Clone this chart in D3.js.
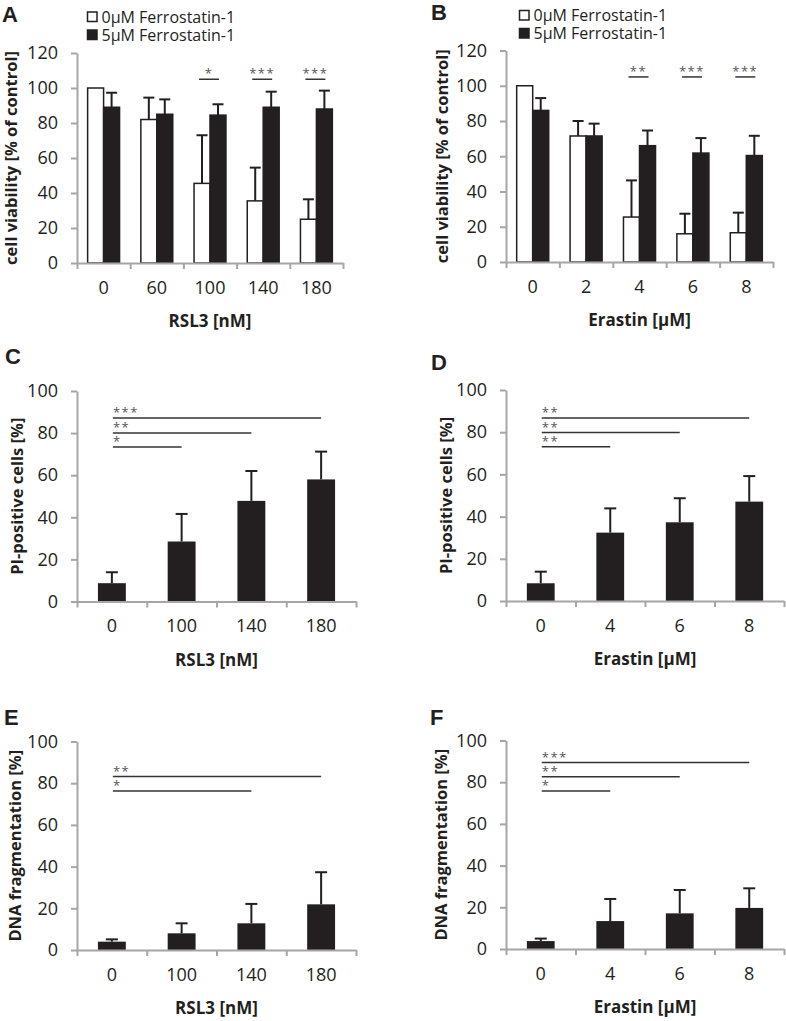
<!DOCTYPE html>
<html>
<head>
<meta charset="utf-8">
<script src="https://cdn.jsdelivr.net/npm/d3@7"></script>
<style>
  body { margin: 0; background: #fff; }
  svg { display: block; font-family: "Open Sans", sans-serif; }
</style>
</head>
<body>
<svg id="fig" width="786" height="1021"></svg>
<script>
// ---- data ----
const rslDosesAB = ["0", "60", "100", "140", "180"];
const erastinDosesAB = ["0", "2", "4", "6", "8"];
const rslDoses = ["0", "100", "140", "180"];
const erastinDoses = ["0", "4", "6", "8"];
const legendLabels = ["0\u00b5M Ferrostatin-1", "5\u00b5M Ferrostatin-1"];

// A: viability, RSL3
const viabRsl0 = [100, 82, 45.5, 35.5, 25];
const viabRsl0Sd = [0, 12.5, 27.5, 19, 11.4];
const viabRsl5 = [89, 85, 84.5, 89, 88];
const viabRsl5Sd = [8.3, 8.5, 6.2, 8.9, 10.5];
const sigA = [{ at: 2, label: "*" }, { at: 3, label: "***" }, { at: 4, label: "***" }];

// B: viability, Erastin
const viabEra0 = [100, 71.5, 25.5, 16, 16.6];
const viabEra0Sd = [0, 8.5, 20.8, 11.4, 11.4];
const viabEra5 = [86, 71.5, 66, 61.8, 60.4];
const viabEra5Sd = [7, 7, 8.6, 8.5, 11.2];
const sigB = [{ at: 2, label: "**" }, { at: 3, label: "***" }, { at: 4, label: "***" }];

// C/D: PI-positive cells
const piRsl = [8.7, 28.5, 47.8, 58];
const piRslSd = [5.2, 13.1, 14.2, 13.2];
const sigC = [{ to: 1, label: "*", y: 73.4 }, { to: 2, label: "**", y: 80 }, { to: 3, label: "***", y: 87.2 }];
const piEra = [8.4, 32.4, 37.3, 47.1];
const piEraSd = [5.5, 11.5, 11.4, 12.1];
const sigD = [{ to: 1, label: "**", y: 73.1 }, { to: 2, label: "**", y: 79.8 }, { to: 3, label: "**", y: 86.7 }];

// E/F: DNA fragmentation
const fragRsl = [4, 8, 12.8, 21.9];
const fragRslSd = [1.1, 4.8, 9.3, 15.4];
const sigE = [{ to: 2, label: "*", y: 76.3 }, { to: 3, label: "**", y: 83.2 }];
const fragEra = [3.8, 13.4, 17.1, 19.7];
const fragEraSd = [1.2, 10.6, 11.2, 9.4];
const sigF = [{ to: 1, label: "*", y: 75.8 }, { to: 2, label: "**", y: 82.6 }, { to: 3, label: "***", y: 89.4 }];

const ink = "#231f20";
const axisGrey = "#a6a6a6";
const svg = d3.select("#fig");

function drawAxes(g, x, y, box, max, xTitle, yTitle) {
  const yAx = g.append("g")
    .attr("transform", `translate(${box.left},0)`)
    .call(d3.axisLeft(y).tickValues(d3.range(0, max + 1, 20)).tickSizeInner(6).tickSizeOuter(0).tickPadding(13));
  // category boundary ticks (excel style)
  const edges = d3.scaleLinear().domain([0, x.domain().length]).range(x.range());
  const xEdge = g.append("g")
    .attr("transform", `translate(0,${box.bottom})`)
    .call(d3.axisBottom(edges).tickValues(d3.range(0, x.domain().length + 1)).tickFormat("").tickSizeInner(6).tickSizeOuter(0));
  const xAx = g.append("g")
    .attr("transform", `translate(0,${box.bottom})`)
    .call(d3.axisBottom(x).tickSize(0).tickPadding(18));
  xAx.select(".domain").remove();
  [yAx, xEdge].forEach(a => {
    a.selectAll(".domain, line").attr("stroke", axisGrey).attr("stroke-width", 2);
  });
  [yAx, xAx].forEach(a => {
    a.attr("font-size", 18).attr("font-family", "Open Sans");
    a.selectAll("text").attr("fill", ink);
  });

  g.append("text")
    .attr("x", (box.left + box.right) / 2)
    .attr("y", box.bottom + 64)
    .attr("text-anchor", "middle")
    .attr("font-weight", "bold").attr("font-size", 17).attr("fill", ink)
    .text(xTitle);
  g.append("text")
    .attr("transform", `translate(${box.ytx},${(box.top + box.bottom) / 2}) rotate(-90)`)
    .attr("text-anchor", "middle")
    .attr("dy", "0.35em")
    .attr("font-weight", "bold").attr("font-size", 16.5).attr("fill", ink)
    .text(yTitle);
  g.append("text")
    .attr("x", box.lx).attr("y", box.ly)
    .attr("font-weight", "bold").attr("font-size", 22).attr("fill", ink)
    .attr("font-family", "Liberation Sans")
    .text(box.letter);
}

function errorBar(g, cx, top, ySd, cap) {
  g.append("line").attr("x1", cx).attr("x2", cx).attr("y1", top).attr("y2", ySd)
    .attr("stroke", ink).attr("stroke-width", 2);
  g.append("line").attr("x1", cx - cap / 2).attr("x2", cx + cap / 2).attr("y1", ySd).attr("y2", ySd)
    .attr("stroke", ink).attr("stroke-width", 2);
}

function stars(g, x, lineY, label, anchor) {
  g.append("text").attr("x", x).attr("y", lineY - 1)
    .attr("text-anchor", anchor).attr("font-size", 13).attr("letter-spacing", 1.5)
    .attr("fill", "#555").text(label);
}

function groupedPanel(box, cats, series, sig, xTitle, yTitle) {
  const g = svg.append("g");
  const x = d3.scaleBand().domain(cats).range([box.left, box.right]);
  const y = d3.scaleLinear().domain([0, 120]).range([box.bottom, box.top]);
  const bw = x.bandwidth() * 0.3;

  series.forEach((s, si) => {
    cats.forEach((c, i) => {
      const bx = x(c) + x.bandwidth() / 2 - bw + si * bw;
      g.append("rect")
        .attr("x", bx).attr("y", y(s.vals[i]))
        .attr("width", bw).attr("height", y(0) - y(s.vals[i]))
        .attr("fill", s.fill).attr("stroke", ink).attr("stroke-width", 1.5);
      if (s.sd[i] > 0) errorBar(g, bx + bw / 2, y(s.vals[i]), y(s.vals[i] + s.sd[i]), 11);
    });
  });

  sig.forEach(d => {
    const c = cats[d.at];
    const x1 = x(c) + x.bandwidth() / 2 - bw / 2 - 3;
    const x2 = x(c) + x.bandwidth() / 2 + bw / 2 + 1;
    g.append("line").attr("x1", x1).attr("x2", x2).attr("y1", y(105)).attr("y2", y(105))
      .attr("stroke", "#333").attr("stroke-width", 1.5);
    stars(g, (x1 + x2) / 2, y(105), d.label, "middle");
  });

  drawAxes(g, x, y, box, 120, xTitle, yTitle);

  // legend
  series.forEach((s, si) => {
    const ly = box.legY + si * 18;
    g.append("rect").attr("x", box.legX).attr("y", ly).attr("width", 9.5).attr("height", 9.5)
      .attr("fill", s.fill).attr("stroke", ink).attr("stroke-width", 1.5);
    g.append("text").attr("x", box.legX + 14).attr("y", ly + 10.5)
      .attr("font-size", 16).attr("fill", ink).text(legendLabels[si]);
  });
}

function singlePanel(box, cats, vals, sd, sig, xTitle, yTitle) {
  const g = svg.append("g");
  const x = d3.scaleBand().domain(cats).range([box.left, box.right]);
  const y = d3.scaleLinear().domain([0, 100]).range([box.bottom, box.top]);
  const bw = x.bandwidth() * 0.4;

  cats.forEach((c, i) => {
    const cx = x(c) + x.bandwidth() / 2;
    g.append("rect")
      .attr("x", cx - bw / 2).attr("y", y(vals[i]))
      .attr("width", bw).attr("height", y(0) - y(vals[i]))
      .attr("fill", ink);
    errorBar(g, cx, y(vals[i]), y(vals[i] + sd[i]), 12);
  });

  const x0 = x(cats[0]) + x.bandwidth() / 2 + 1;
  sig.forEach(d => {
    const x2 = x(cats[d.to]) + x.bandwidth() / 2;
    g.append("line").attr("x1", x0).attr("x2", x2).attr("y1", y(d.y)).attr("y2", y(d.y))
      .attr("stroke", "#333").attr("stroke-width", 1.5);
    stars(g, x0, y(d.y), d.label, "start");
  });

  drawAxes(g, x, y, box, 100, xTitle, yTitle);
}

groupedPanel(
  { left: 77, right: 343, top: 53, bottom: 263, ytx: 11, lx: 2, ly: 22, letter: "A", legX: 87.5, legY: 12 },
  rslDosesAB,
  [{ vals: viabRsl0, sd: viabRsl0Sd, fill: "#fff" }, { vals: viabRsl5, sd: viabRsl5Sd, fill: ink }],
  sigA, "RSL3 [nM]", "cell viability [% of control]");

groupedPanel(
  { left: 506, right: 773, top: 50.5, bottom: 262, ytx: 442, lx: 431, ly: 20, letter: "B", legX: 519.5, legY: 10.5 },
  erastinDosesAB,
  [{ vals: viabEra0, sd: viabEra0Sd, fill: "#fff" }, { vals: viabEra5, sd: viabEra5Sd, fill: ink }],
  sigB, "Erastin [\u00b5M]", "cell viability [% of control]");

singlePanel({ left: 77, right: 356, top: 391, bottom: 601.5, ytx: 17, lx: 5, ly: 364, letter: "C" },
  rslDoses, piRsl, piRslSd, sigC, "RSL3 [nM]", "PI-positive cells [%]");
singlePanel({ left: 506, right: 784, top: 390, bottom: 601, ytx: 446, lx: 431, ly: 370, letter: "D" },
  erastinDoses, piEra, piEraSd, sigD, "Erastin [\u00b5M]", "PI-positive cells [%]");
singlePanel({ left: 77, right: 356, top: 741.5, bottom: 950, ytx: 15, lx: 4, ly: 725, letter: "E" },
  rslDoses, fragRsl, fragRslSd, sigE, "RSL3 [nM]", "DNA fragmentation [%]");
singlePanel({ left: 506, right: 784, top: 740.5, bottom: 949, ytx: 441, lx: 430, ly: 725, letter: "F" },
  erastinDoses, fragEra, fragEraSd, sigF, "Erastin [\u00b5M]", "DNA fragmentation [%]");
</script>
</body>
</html>
